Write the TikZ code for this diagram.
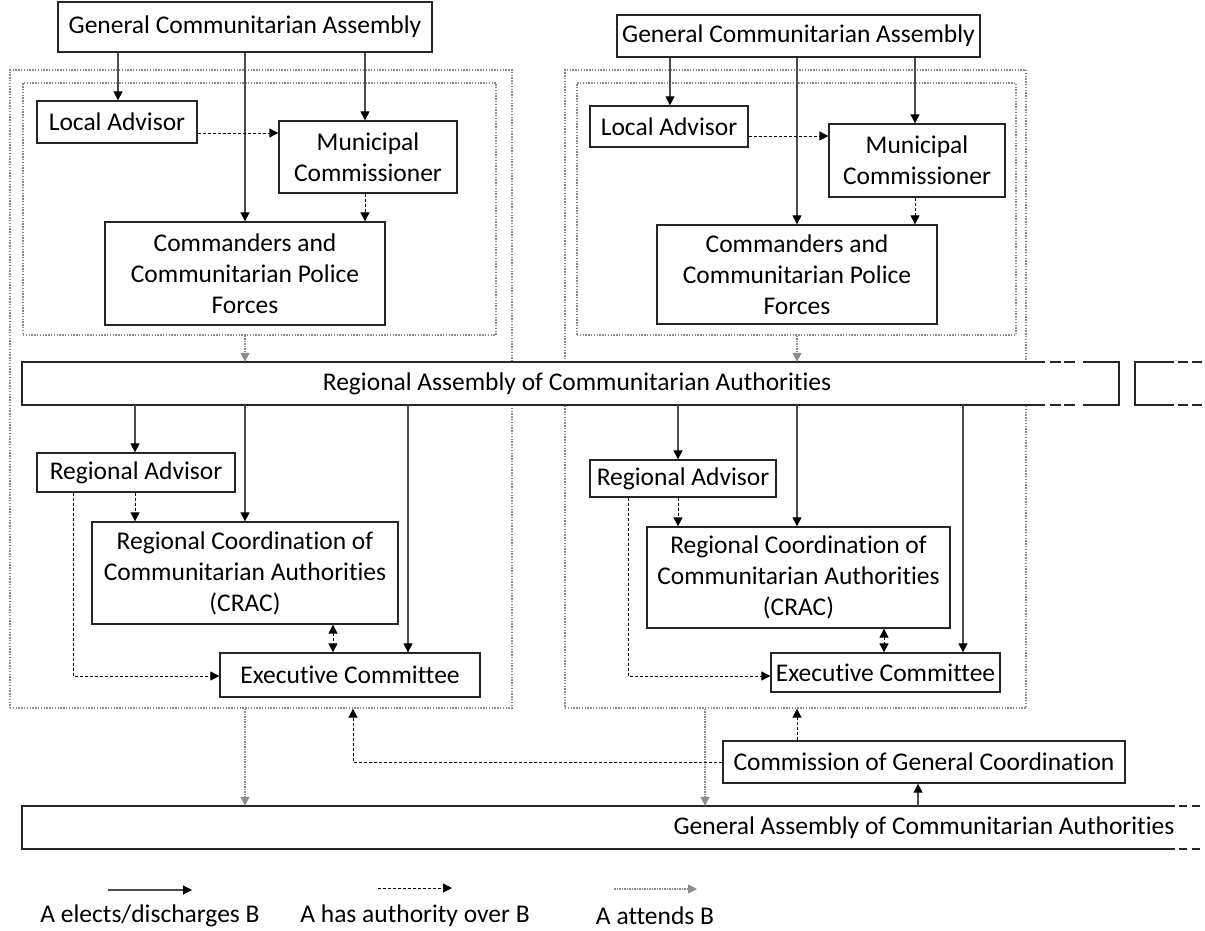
\documentclass[tikz,border=0pt]{standalone}
\usepackage{fontspec}
\setmainfont{Carlito}[RawFeature={-liga;-clig;-calt;-dlig}]
\usetikzlibrary{arrows.meta,calc}
\begin{document}
\begin{tikzpicture}[x=1pt,y=-1pt,
 bx/.style={draw=black!85, line width=1.3pt},
 box/.style={bx, rectangle, inner sep=0pt, align=center, font=\fontsize{25.5}{31}\selectfont},
 txt/.style={inner sep=0pt, align=center, font=\fontsize{25.5}{31}\selectfont},
 region/.style={draw=black!45, line width=1.4pt, dash pattern=on 1.4pt off 1.4pt, inner sep=0pt},
 el/.style={draw=black!70, line width=1.1pt, -{Triangle[length=9pt,width=9pt,color=black]}},
 al/.style={draw=black, line width=1pt, dash pattern=on 3pt off 2pt, -{Triangle[length=9pt,width=9pt]}},
 altwo/.style={draw=black, line width=1pt, dash pattern=on 3pt off 2pt, {Triangle[length=9pt,width=9pt]}-{Triangle[length=9pt,width=9pt]}},
 attend/.style={draw=black!45, line width=1.1pt, dash pattern=on 1.5pt off 1pt, -{Triangle[length=9pt,width=9pt]}},
]
\useasboundingbox (0,0) rectangle (1205,930);

% regions
\node[region, minimum width=502pt, minimum height=638pt] (out1) at (261,389) {};
\node[region, minimum width=473pt, minimum height=252pt] (in1) at (259.5,209) {};
\node[region, minimum width=461pt, minimum height=638pt] (out2) at (795.5,389) {};
\node[region, minimum width=439pt, minimum height=252pt] (in2) at (796.5,209) {};

% boxes left
\node[box, minimum width=374pt, minimum height=50pt] (gca1) at (245,27) {General Communitarian Assembly};
\node[box, minimum width=160pt, minimum height=42pt] (la1) at (117,122) {Local Advisor};
\node[box, minimum width=178pt, minimum height=72pt] (mc1) at (368,157) {Municipal\\Commissioner};
\node[box, minimum width=280pt, minimum height=103pt] (cmd1) at (245,273.5) {Commanders and\\Communitarian Police\\Forces};
\node[box, minimum width=198pt, minimum height=39pt] (rad1) at (136,472.5) {Regional Advisor};
\node[box, minimum width=306pt, minimum height=102pt] (crac1) at (245,573) {Regional Coordination of\\Communitarian Authorities\\(CRAC)};
\node[box, minimum width=260pt, minimum height=44pt] (exec1) at (350,675) {Executive Committee};

% boxes right
\node[box, minimum width=363pt, minimum height=42pt] (gca2) at (798.5,36) {General Communitarian Assembly};
\node[box, minimum width=158pt, minimum height=41pt] (la2) at (669,126.5) {Local Advisor};
\node[box, minimum width=176pt, minimum height=73pt] (mc2) at (917,160.5) {Municipal\\Commissioner};
\node[box, minimum width=280pt, minimum height=99pt] (cmd2) at (797,274.5) {Commanders and\\Communitarian Police\\Forces};
\node[box, minimum width=186pt, minimum height=37pt] (rad2) at (683,478.5) {Regional Advisor};
\node[box, minimum width=303pt, minimum height=101pt] (crac2) at (798.5,577.5) {Regional Coordination of\\Communitarian Authorities\\(CRAC)};
\node[box, minimum width=229pt, minimum height=39pt] (exec2) at (885.5,672.5) {Executive Committee};

\node[box, minimum width=402pt, minimum height=42pt] (cgc) at (924,762) {Commission of General Coordination};

% regional assembly (broken box)
\fill[white] (22,362) rectangle (1119,405);
\node[txt, minimum height=43pt] (RA) at (577,383.5) {Regional Assembly of Communitarian Authorities};
\draw[bx] (1045,362) -- (22,362) -- (22,405) -- (1045,405);
\draw[bx] (1050,362) -- (1061,362) (1064,362) -- (1075,362) (1050,405) -- (1061,405) (1064,405) -- (1075,405);
\draw[bx] (1083,362) -- (1119,362) -- (1119,405) -- (1083,405);
\draw[bx] (1174,362) -- (1135,362) -- (1135,405) -- (1174,405);
\draw[bx] (1178,362) -- (1188,362) (1192,362) -- (1202,362) (1178,405) -- (1188,405) (1192,405) -- (1202,405);

% general assembly (open box)
\node[txt, minimum height=43pt] (GA) at (924,827.5) {General Assembly of Communitarian Authorities};
\draw[bx] (1175,806) -- (22,806) -- (22,849) -- (1175,849);
\draw[bx] (1179,806) -- (1187,806) (1192,806) -- (1200,806) (1179,849) -- (1187,849) (1192,849) -- (1200,849);

% guide coordinates
\foreach \v in {118,245,365,135,408,333,73,353,670,797,915,678,963,884,628,705,918}
  \coordinate (c\v) at (\v,0);
\coordinate (r133) at (0,133);
\coordinate (r136) at (0,136);
\coordinate (r676) at (0,676);

% connectors left
\draw[el] (gca1.south -| c118) -- (la1.north -| c118);
\draw[el] (gca1.south -| c245) -- (cmd1.north -| c245);
\draw[el] (gca1.south -| c365) -- (mc1.north -| c365);
\draw[al] (la1.east |- r133) -- (mc1.west |- r133);
\draw[al] (mc1.south -| c365) -- (cmd1.north -| c365);
\draw[attend] (in1.south -| c245) -- (RA.north -| c245);
\draw[el] (RA.south -| c135) -- (rad1.north -| c135);
\draw[el] (RA.south -| c245) -- (crac1.north -| c245);
\draw[el] (RA.south -| c408) -- (exec1.north -| c408);
\draw[al] (rad1.south -| c135) -- (crac1.north -| c135);
\draw[altwo] (crac1.south -| c333) -- (exec1.north -| c333);
\draw[al] (rad1.south -| c73) -- (c73 |- r676) -- (exec1.west |- r676);
\draw[attend] (out1.south -| c245) -- (GA.north -| c245);

% connectors right
\draw[el] (gca2.south -| c670) -- (la2.north -| c670);
\draw[el] (gca2.south -| c797) -- (cmd2.north -| c797);
\draw[el] (gca2.south -| c915) -- (mc2.north -| c915);
\draw[al] (la2.east |- r136) -- (mc2.west |- r136);
\draw[al] (mc2.south -| c915) -- (cmd2.north -| c915);
\draw[attend] (in2.south -| c797) -- (RA.north -| c797);
\draw[el] (RA.south -| c678) -- (rad2.north -| c678);
\draw[el] (RA.south -| c797) -- (crac2.north -| c797);
\draw[el] (RA.south -| c963) -- (exec2.north -| c963);
\draw[al] (rad2.south -| c678) -- (crac2.north -| c678);
\draw[altwo] (crac2.south -| c884) -- (exec2.north -| c884);
\draw[al] (rad2.south -| c628) -- (c628 |- r676) -- (exec2.west |- r676);
\draw[attend] (out2.south -| c705) -- (GA.north -| c705);

% commission
\draw[al] (cgc.west) -- (c353 |- cgc.west) -- (out1.south -| c353);
\draw[al] (cgc.north -| c797) -- (out2.south -| c797);
\draw[el] (GA.north -| c918) -- (cgc.south -| c918);

% legend
\coordinate (l1a) at (108,890); \coordinate (l1b) at (192,890);
\coordinate (l2a) at (378,888); \coordinate (l2b) at (452,888);
\coordinate (l3a) at (614,889); \coordinate (l3b) at (697,889);
\draw[el] (l1a) -- (l1b);
\draw[al] (l2a) -- (l2b);
\draw[attend] (l3a) -- (l3b);
\node[txt] (lt1) at (150,916) {A elects/discharges B};
\node[txt] (lt2) at (415,916) {A has authority over B};
\node[txt] (lt3) at (655,916) {A attends B};
\end{tikzpicture}
\end{document}
